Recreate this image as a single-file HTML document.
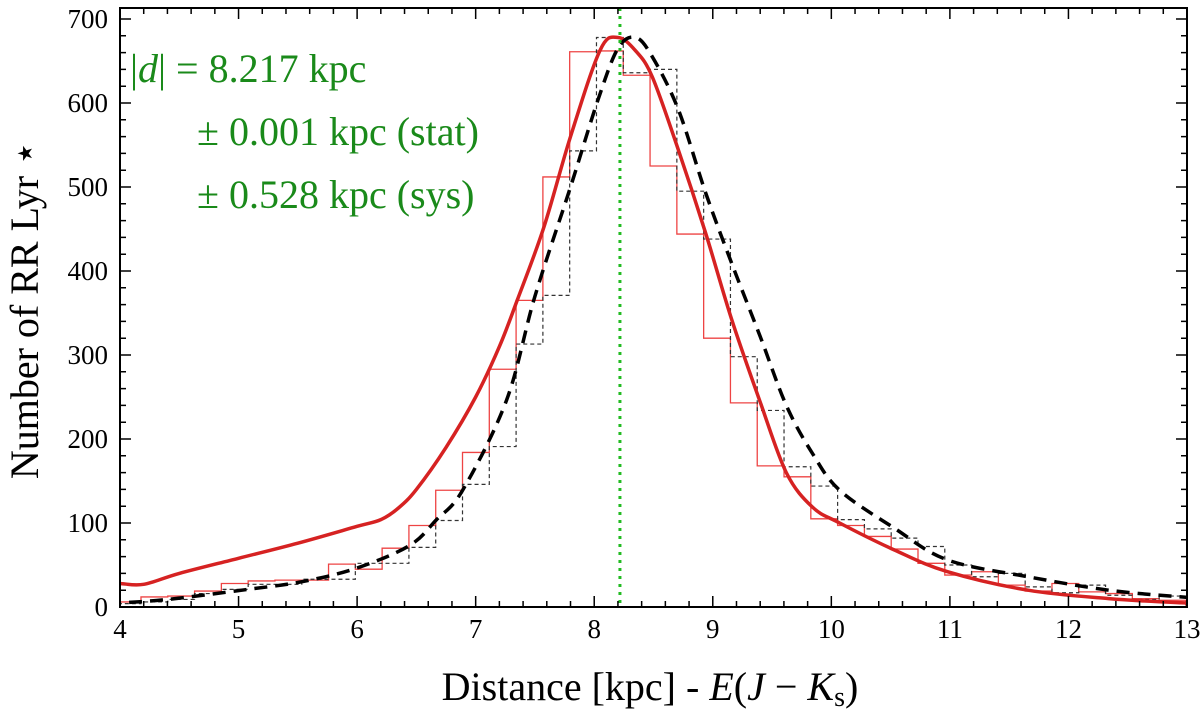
<!DOCTYPE html>
<html><head><meta charset="utf-8"><style>
body{margin:0;background:#fff;}
svg, svg text{font-family:"Liberation Serif","DejaVu Serif",serif !important;}
</style></head><body>
<svg id="chart" width="1200" height="715" xmlns="http://www.w3.org/2000/svg" font-family="Liberation Serif, DejaVu Serif, serif">
<defs><clipPath id="plotclip"><rect x="120" y="8" width="1067" height="599"/></clipPath></defs>
<rect x="0" y="0" width="1200" height="715" fill="#fff"/>
<g id="hist" clip-path="url(#plotclip)"></g>
<g id="curves" clip-path="url(#plotclip)"></g>
<g id="axes"></g>
<text x="130" y="82" font-size="40" fill="#1a8a1a" font-family="Liberation Serif, serif">|<tspan font-style="italic">d</tspan>| = 8.217 kpc</text>
<text x="197" y="145" font-size="40" fill="#1a8a1a" font-family="Liberation Serif, serif">± 0.001 kpc (stat)</text>
<text x="197" y="208" font-size="40" fill="#1a8a1a" font-family="Liberation Serif, serif">± 0.528 kpc (sys)</text>
<text x="650" y="700" font-size="40" text-anchor="middle" font-family="Liberation Serif, serif">Distance [kpc] - <tspan font-style="italic">E</tspan>(<tspan font-style="italic">J</tspan> − <tspan font-style="italic">K</tspan><tspan font-size="28" dy="6">s</tspan><tspan dy="-6">)</tspan></text>
<text transform="translate(38,310) rotate(-90)" font-size="40" text-anchor="middle" font-family="Liberation Serif, serif">Number of RR Lyr ⋆</text>
</svg>
<script>
const binStart = 3.951;
const binWidth = 0.226;
const redHist = [6,12,13,19,28,31,32,32,51,45,70,97,139,184,283,365,512,661,662,633,525,444,320,243,168,155,105,97,84,69,52,38,42,26,19,28,18,16,10,8];
const blackHist = [4,6,9,16,21,27,27,33,33,52,52,71,103,146,191,313,371,543,678,636,640,495,438,298,234,167,144,104,93,82,72,50,36,40,24,17,26,14,9,13];
const redCurveX = [3.9,4,4.2,4.5,5,5.5,6,6.2,6.35,6.5,6.75,7,7.2,7.35,7.575,7.8,8.05,8.2,8.35,8.49,8.71,8.94,9.16,9.4,9.62,9.84,10.07,10.53,10.98,11.66,12.34,12.95,13.1];
const redCurveY = [29,28,27,40,58,76,96,104,118,140,190,250,310,365,452,560,663,678,662,631,544,445,342,244,160,119,100,68,42,20,10,5,5];
const blackCurveX = [3.9,4,4.4,5.08,5.53,5.99,6.44,6.67,6.89,7.26,7.5,7.8,8.03,8.2,8.35,8.49,8.71,8.94,9.16,9.4,9.62,9.84,10.07,10.53,10.98,11.66,12.34,12.95,13.1];
const blackCurveY = [5,5,9,21,30,46,73,104,139,246,370,500,603,665,678,655,592,493,409,322,240,183,139,94,56,36,20,12,11];
const xTicks = [4,5,6,7,8,9,10,11,12,13];
const yTicks = [0,100,200,300,400,500,600,700];
const distanceValue = 8.217;

const X0=120,X1=1187,Y0=607,Y1=8;
const xs = v => X0 + (v-4)/9*(X1-X0);
const ys = v => Y0 - v*0.84;
const NS="http://www.w3.org/2000/svg";
function mk(tag, parent){const e=document.createElementNS(NS,tag);parent.appendChild(e);return e;}

const hist=document.getElementById('hist');
function stepPath(vals){
  let d=`M${xs(binStart)},${ys(0)}`;
  vals.forEach((v,i)=>{const a=xs(binStart+i*binWidth),b=xs(binStart+(i+1)*binWidth);d+=`L${a},${ys(v)}L${b},${ys(v)}`;});
  d+=`L${xs(binStart+vals.length*binWidth)},${ys(0)}`;
  return d;
}
const rh=mk('path',hist);


rh.setAttribute('d',stepPath(redHist));rh.setAttribute('fill','none');rh.setAttribute('stroke','#ee4444');rh.setAttribute('stroke-width','1.3');
const bh=mk('path',hist);


bh.setAttribute('d',stepPath(blackHist));bh.setAttribute('fill','none');bh.setAttribute('stroke','#333');bh.setAttribute('stroke-width','1.2');bh.setAttribute('stroke-dasharray','4,3');

const cv=document.getElementById('curves');
function smooth(xa,ya){
  const p=xa.map((x,i)=>[xs(x),ys(ya[i])]);
  let d=`M${p[0][0]},${p[0][1]}`;
  for(let i=0;i<p.length-1;i++){
    const p0=p[Math.max(i-1,0)],p1=p[i],p2=p[i+1],p3=p[Math.min(i+2,p.length-1)];
    const c1=[p1[0]+(p2[0]-p0[0])/6,p1[1]+(p2[1]-p0[1])/6],c2=[p2[0]-(p3[0]-p1[0])/6,p2[1]-(p3[1]-p1[1])/6];
    d+=`C${c1[0]},${c1[1]} ${c2[0]},${c2[1]} ${p2[0]},${p2[1]}`;
  }
  return d;
}
const rc=mk('path',cv);


rc.setAttribute('d',smooth(redCurveX,redCurveY));rc.setAttribute('fill','none');rc.setAttribute('stroke','#d62222');rc.setAttribute('stroke-width','3.5');
const bc=mk('path',cv);


bc.setAttribute('d',smooth(blackCurveX,blackCurveY));bc.setAttribute('fill','none');bc.setAttribute('stroke','#000');bc.setAttribute('stroke-width','3.5');bc.setAttribute('stroke-dasharray','13,8');
const gl=mk('line',cv);


gl.setAttribute('x1',xs(distanceValue));gl.setAttribute('x2',xs(distanceValue));gl.setAttribute('y1',Y1);gl.setAttribute('y2',Y0);
gl.setAttribute('stroke','#22bb22');gl.setAttribute('stroke-width','3');gl.setAttribute('stroke-dasharray','3,5');

const ax=document.getElementById('axes');
const fr=mk('rect',ax);


fr.setAttribute('x',X0);fr.setAttribute('y',Y1);fr.setAttribute('width',X1-X0);fr.setAttribute('height',Y0-Y1);fr.setAttribute('fill','none');fr.setAttribute('stroke','#000');fr.setAttribute('stroke-width','2');
let td='';
for(let i=0;i<=45;i++){const x=xs(4+i*0.2);const L=(i%5===0)?11:6;td+=`M${x},${Y0}v${-L}M${x},${Y1}v${L}`;}
for(let i=0;i<=35;i++){const y=ys(i*20);const L=(i%5===0)?11:6;td+=`M${X0},${y}h${L}M${X1},${y}h${-L}`;}
const tk=mk('path',ax);


tk.setAttribute('d',td);tk.setAttribute('stroke','#000');tk.setAttribute('stroke-width','1.5');
xTicks.forEach(v=>{const t=mk('text',ax);


t.setAttribute('font-family','Liberation Serif, serif');
t.setAttribute('x',xs(v));t.setAttribute('y',638);t.setAttribute('font-size','27');t.setAttribute('text-anchor','middle');t.textContent=v;});
yTicks.forEach(v=>{const t=mk('text',ax);


t.setAttribute('font-family','Liberation Serif, serif');
t.setAttribute('x',108);t.setAttribute('y',ys(v)+9);t.setAttribute('font-size','27');t.setAttribute('text-anchor','end');t.textContent=v;});
</script>
</body></html>
